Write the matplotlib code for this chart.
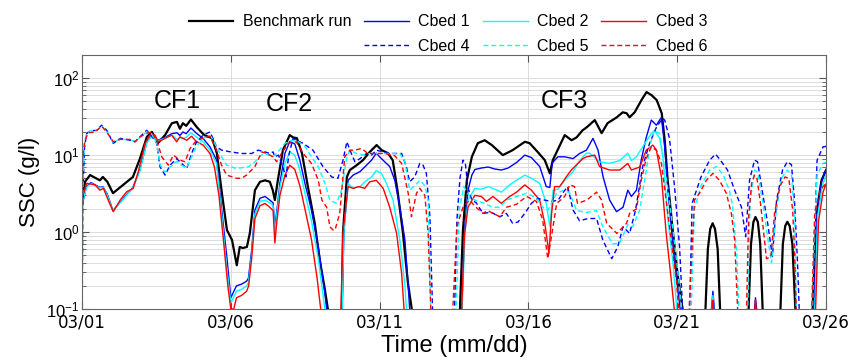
import numpy as np
import matplotlib
matplotlib.use("Agg")
import matplotlib.pyplot as plt
from matplotlib.lines import Line2D

plt.rcParams['font.family'] = ['Liberation Sans', 'DejaVu Sans']
plt.rcParams['mathtext.fontset'] = 'custom'
plt.rcParams['mathtext.rm'] = 'DejaVu Sans'

# ── Data: (days since 03/01, SSC g/l) ─────────────────────────────────────────
date_ticks = [0, 5, 10, 15, 20, 25]
date_labels = ["03/01", "03/06", "03/11", "03/16", "03/21", "03/26"]

bench = [(0.0, 2.5), (0.1, 4.5), (0.27, 5.5), (0.6, 4.7), (0.7, 5.2), (0.85, 4.5), (1.04, 3.2),
         (1.38, 4.1), (1.71, 5.2), (1.95, 9.1), (2.18, 17.3), (2.35, 20), (2.55, 14.3), (2.79, 18.2),
         (3.02, 26), (3.19, 27), (3.29, 22), (3.39, 26), (3.5, 24), (3.66, 29), (3.86, 23),
         (4.06, 19), (4.13, 18), (4.37, 16.6), (4.53, 10.6), (4.7, 3.2), (4.87, 1.06), (5.04, 0.79),
         (5.2, 0.37), (5.3, 0.64), (5.4, 0.62), (5.54, 0.64), (5.64, 0.97), (5.81, 3.5), (5.98, 4.5),
         (6.15, 4.7), (6.31, 4.5), (6.41, 3.5), (6.48, 2.6), (6.58, 4.7), (6.75, 11.6), (6.98, 18.2),
         (7.09, 17), (7.22, 16.6), (7.39, 10.6), (7.59, 3.9), (7.82, 1.3), (7.99, 0.43), (8.16, 0.18),
         (8.26, 0.1), (8.35, 0.01), (8.65, 0.01), (8.73, 0.1), (8.77, 1.0), (8.9, 5.2), (9.0, 6.4),
         (9.23, 7.4), (9.44, 8.6), (9.67, 11), (9.9, 13.5), (10.07, 11.6), (10.28, 10.6), (10.44, 8.6),
         (10.6, 3.5), (10.78, 1.0), (10.95, 0.22), (11.08, 0.1), (11.2, 0.01), (12.6, 0.01), (12.7, 0.1),
         (12.8, 1.06), (12.93, 4.7), (13.1, 9.5), (13.3, 14.3), (13.53, 15.6), (13.77, 13.5),
         (14.14, 10), (14.47, 11.6), (14.88, 14.9), (15.04, 14.3), (15.31, 11), (15.55, 8.6),
         (15.72, 5.8), (15.82, 8.6), (15.98, 11.6), (16.22, 18.2), (16.45, 15.6), (16.62, 17),
         (16.82, 21), (16.96, 23), (17.23, 28.5), (17.46, 19.3), (17.66, 26), (17.97, 31), (18.17, 36),
         (18.3, 35), (18.4, 31), (18.57, 36), (18.8, 52), (18.97, 66), (19.14, 60), (19.31, 52),
         (19.48, 35), (19.58, 15.6), (19.68, 4.7), (19.85, 1.06), (20.01, 0.29), (20.18, 0.1),
         (20.3, 0.01), (20.9, 0.01), (20.95, 0.1), (21.03, 0.6), (21.11, 1.1), (21.19, 1.3),
         (21.27, 1.1), (21.36, 0.6), (21.44, 0.1), (21.5, 0.01), (22.35, 0.01), (22.4, 0.1),
         (22.48, 0.7), (22.56, 1.35), (22.63, 1.57), (22.71, 1.35), (22.79, 0.7), (22.87, 0.1),
         (22.95, 0.01), (23.4, 0.01), (23.47, 0.1), (23.55, 0.7), (23.63, 1.2), (23.7, 1.36),
         (23.78, 1.2), (23.87, 0.7), (23.97, 0.1), (24.05, 0.01), (24.5, 0.01), (24.55, 0.1),
         (24.68, 1.76), (24.85, 4.7), (25.0, 6.4)]

cbed1 = [(0.0, 2.2), (0.15, 3.9), (0.3, 4.4), (0.6, 3.8), (0.7, 3.9), (0.85, 3.1), (1.04, 1.9),
         (1.38, 2.7), (1.71, 3.8), (1.95, 6.5), (2.18, 15), (2.35, 18), (2.55, 15.6), (2.79, 17),
         (3.02, 19), (3.19, 19.5), (3.29, 18), (3.39, 20), (3.5, 19), (3.66, 22.5), (3.86, 19),
         (4.06, 16.6), (4.3, 12.8), (4.52, 8.6), (4.69, 2.0), (4.86, 0.5), (5.0, 0.14), (5.19, 0.2),
         (5.36, 0.21), (5.53, 0.23), (5.59, 0.25), (5.7, 0.58), (5.81, 1.93), (5.98, 2.75),
         (6.15, 2.9), (6.31, 2.6), (6.42, 2.4), (6.48, 1.17), (6.54, 1.8), (6.65, 4.3), (6.82, 10.6),
         (6.98, 15), (7.15, 14), (7.32, 8.6), (7.49, 4.3), (7.71, 1.93), (7.94, 0.64), (8.16, 0.16),
         (8.22, 0.1), (8.3, 0.01), (8.68, 0.01), (8.74, 0.1), (8.8, 1.0), (8.94, 4.7), (9.11, 5.5),
         (9.34, 6.1), (9.56, 7.4), (9.73, 8.6), (9.89, 10.6), (10.0, 9.5), (10.17, 8.2), (10.34, 7.1),
         (10.51, 4.7), (10.68, 2.1), (10.85, 0.79), (10.96, 0.2), (11.01, 0.1), (11.1, 0.01),
         (12.7, 0.01), (12.76, 0.1), (12.85, 1.0), (12.97, 3.5), (13.1, 5.5), (13.2, 6.5),
         (13.42, 6.8), (13.65, 7.0), (13.87, 6.6), (14.09, 6.4), (14.32, 6.8), (14.6, 8.0),
         (14.88, 10), (15.1, 9.3), (15.38, 7.1), (15.6, 3.9), (15.72, 3.8), (15.8, 7.9), (15.99, 9.5),
         (16.22, 9.5), (16.5, 9.0), (16.72, 10.5), (16.95, 11.6), (17.17, 16.5), (17.34, 11.6),
         (17.51, 5.2), (17.73, 2.6), (17.96, 1.84), (18.18, 2.1), (18.34, 3.5), (18.46, 2.9),
         (18.63, 3.5), (18.79, 8.6), (18.96, 17), (19.13, 28.5), (19.3, 24.5), (19.47, 31),
         (19.58, 12.8), (19.69, 3.5), (19.86, 0.64), (20.02, 0.18), (20.1, 0.1), (20.2, 0.01),
         (21.1, 0.01), (21.15, 0.1), (21.2, 0.17), (21.25, 0.1), (21.3, 0.01), (22.55, 0.01),
         (22.6, 0.1), (22.63, 0.14), (22.67, 0.1), (22.72, 0.01), (24.55, 0.01), (24.6, 0.1),
         (24.7, 1.8), (24.85, 4.5), (25.0, 6.5)]

cbed2 = [(0.0, 2.3), (0.15, 3.8), (0.3, 4.3), (0.6, 3.75), (0.7, 3.85), (0.85, 3.0), (1.04, 1.87),
         (1.38, 2.65), (1.71, 3.75), (1.95, 6.3), (2.18, 14.7), (2.35, 17.7), (2.55, 15.3),
         (2.79, 16.6), (3.02, 18.2), (3.19, 16), (3.29, 16.8), (3.39, 16.5), (3.5, 17), (3.66, 19.5),
         (3.86, 17), (4.06, 15), (4.3, 11.6), (4.52, 7.8), (4.69, 1.7), (4.86, 0.35), (5.0, 0.12),
         (5.19, 0.17), (5.36, 0.18), (5.53, 0.2), (5.59, 0.22), (5.7, 0.5), (5.81, 1.7), (5.98, 2.5),
         (6.15, 2.6), (6.31, 2.4), (6.42, 2.2), (6.48, 1.0), (6.54, 1.6), (6.65, 3.8), (6.82, 7.8),
         (6.98, 11), (7.15, 10), (7.32, 6.4), (7.49, 3.2), (7.71, 1.4), (7.94, 0.45), (8.1, 0.15),
         (8.16, 0.1), (8.25, 0.01), (8.68, 0.01), (8.74, 0.1), (8.8, 1.0), (8.94, 4.3), (9.11, 3.7),
         (9.34, 3.9), (9.56, 4.7), (9.73, 5.2), (9.89, 6.3), (10.06, 5.8), (10.23, 4.3), (10.45, 2.6),
         (10.68, 0.79), (10.85, 0.2), (10.9, 0.1), (11.0, 0.01), (12.72, 0.01), (12.77, 0.1),
         (12.87, 1.0), (12.97, 2.6), (13.2, 3.7), (13.42, 3.6), (13.65, 3.9), (13.87, 3.6),
         (14.09, 3.3), (14.37, 4.1), (14.6, 4.7), (14.88, 5.5), (15.1, 5.0), (15.38, 4.3),
         (15.6, 2.36), (15.72, 1.17), (15.83, 3.5), (15.99, 3.6), (16.22, 4.7), (16.5, 6.1),
         (16.72, 8.5), (16.95, 10.6), (17.06, 10.6), (17.39, 8.2), (17.73, 7.8), (18.07, 8.5),
         (18.34, 10.6), (18.46, 8.5), (18.63, 9.5), (18.91, 14.2), (19.13, 19), (19.24, 21),
         (19.41, 16.5), (19.52, 9.5), (19.69, 1.43), (19.86, 0.39), (19.97, 0.12), (20.05, 0.01),
         (21.12, 0.01), (21.17, 0.1), (21.2, 0.15), (21.23, 0.1), (21.28, 0.01), (24.55, 0.01),
         (24.62, 0.1), (24.72, 1.6), (24.88, 4.0), (25.0, 5.5)]

cbed3 = [(0.0, 2.0), (0.05, 3.2), (0.16, 4.3), (0.44, 4.1), (0.6, 3.5), (0.72, 3.7), (0.88, 2.6),
         (1.05, 1.84), (1.28, 2.6), (1.5, 3.33), (1.72, 3.7), (1.89, 6.1), (2.12, 14.2), (2.28, 18.2),
         (2.45, 18.2), (2.56, 14.9), (2.79, 16.5), (3.01, 18.2), (3.18, 14.9), (3.29, 17.3),
         (3.52, 15.6), (3.68, 17.6), (3.85, 14.9), (4.07, 13.5), (4.3, 10.5), (4.45, 7.0), (4.6, 3.0),
         (4.75, 0.8), (4.9, 0.2), (5.0, 0.1), (5.1, 0.1), (5.19, 0.14), (5.36, 0.15), (5.53, 0.17),
         (5.6, 0.2), (5.7, 0.45), (5.81, 1.5), (5.98, 2.2), (6.15, 2.35), (6.31, 2.1), (6.42, 1.9),
         (6.48, 0.72), (6.54, 1.3), (6.65, 3.0), (6.82, 5.5), (6.98, 7.4), (7.15, 6.5), (7.32, 4.0),
         (7.49, 2.0), (7.71, 0.8), (7.9, 0.25), (8.02, 0.1), (8.1, 0.01), (8.62, 0.01), (8.7, 0.1),
         (8.77, 1.0), (8.94, 3.9), (9.11, 3.7), (9.3, 3.9), (9.5, 3.7), (9.67, 4.5), (9.89, 4.7),
         (10.12, 3.7), (10.34, 2.1), (10.57, 0.97), (10.74, 0.29), (10.82, 0.1), (10.9, 0.01),
         (12.7, 0.01), (12.76, 0.1), (12.85, 0.9), (12.97, 2.1), (13.2, 3.0), (13.42, 2.9),
         (13.59, 2.5), (13.81, 2.9), (14.09, 2.36), (14.37, 2.9), (14.6, 3.3), (14.88, 4.1),
         (15.1, 3.5), (15.38, 2.6), (15.55, 1.3), (15.69, 0.53), (15.78, 1.75), (15.88, 3.9),
         (16.05, 3.9), (16.27, 5.2), (16.44, 6.4), (16.83, 9.0), (16.95, 9.5), (17.23, 10),
         (17.39, 7.1), (17.73, 6.4), (18.07, 6.4), (18.34, 7.8), (18.46, 6.4), (18.74, 7.0),
         (18.96, 11.6), (19.18, 13.5), (19.3, 11.6), (19.47, 5.2), (19.63, 0.96), (19.8, 0.24),
         (19.9, 0.1), (20.0, 0.01), (21.14, 0.01), (21.18, 0.1), (21.2, 0.13), (21.22, 0.1),
         (21.26, 0.01), (22.57, 0.01), (22.61, 0.1), (22.63, 0.13), (22.65, 0.1), (22.69, 0.01),
         (24.6, 0.01), (24.65, 0.1), (24.75, 1.4), (24.9, 3.3), (25.0, 4.2)]

cbed4 = [(0.0, 0.05), (0.03, 3), (0.08, 12), (0.15, 19), (0.27, 20.6), (0.49, 21), (0.66, 24.5),
         (0.83, 21), (1.05, 14.2), (1.28, 16.5), (1.61, 15.6), (1.78, 14.9), (1.95, 17.3),
         (2.17, 21), (2.28, 19), (2.51, 14.2), (2.62, 7.05), (2.79, 5.5), (2.96, 7.4), (3.18, 9.0),
         (3.29, 8.2), (3.52, 6.7), (3.68, 10.5), (3.85, 14.9), (4.07, 18.2), (4.3, 20), (4.35, 18.2),
         (4.52, 12.8), (4.69, 11.6), (5.0, 11), (5.36, 10.5), (5.7, 10.5), (5.92, 11.6), (6.15, 11),
         (6.31, 10.5), (6.42, 11), (6.48, 9.5), (6.6, 10), (6.75, 7), (6.85, 5.2), (6.95, 10),
         (7.09, 16.5), (7.2, 15.6), (7.43, 14.2), (7.76, 11.6), (8.1, 7.05), (8.39, 5.2), (8.6, 5.0),
         (8.77, 8.6), (8.9, 14.9), (9.05, 10.5), (9.17, 8.2), (9.34, 9.0), (9.56, 10.5), (9.73, 10),
         (9.89, 11.6), (10.12, 11), (10.29, 10.5), (10.51, 10.5), (10.74, 10.5), (10.9, 7.05),
         (11.01, 4.5), (11.18, 5.2), (11.35, 7.8), (11.46, 7.4), (11.57, 5.8), (11.69, 1.58),
         (11.78, 0.1), (11.85, 0.01), (12.45, 0.01), (12.52, 0.1), (12.6, 1.5), (12.7, 5),
         (12.8, 8.6), (12.88, 8.0), (12.96, 3.9), (13.1, 2.6), (13.25, 2.4), (13.47, 1.75),
         (13.75, 1.8), (14.04, 1.58), (14.26, 1.75), (14.47, 1.3), (14.65, 1.35), (14.88, 1.75),
         (15.1, 2.36), (15.31, 2.74), (15.55, 2.6), (15.78, 2.5), (16.0, 2.6), (16.15, 3.2),
         (16.32, 3.9), (16.5, 1.93), (16.72, 1.4), (17.0, 1.5), (17.29, 1.5), (17.5, 0.79),
         (17.8, 0.45), (18.0, 0.64), (18.18, 1.17), (18.4, 0.96), (18.6, 1.93), (18.84, 7.1),
         (19.07, 14.2), (19.31, 23.4), (19.51, 30), (19.58, 28.5), (19.74, 16.5), (19.91, 3.9),
         (20.08, 0.64), (20.18, 0.1), (20.25, 0.01), (20.35, 0.01), (20.42, 0.1), (20.5, 2.36),
         (20.8, 5.2), (21.09, 8.6), (21.29, 10.3), (21.49, 8.2), (21.69, 6.4), (21.93, 3.5),
         (22.16, 2.1), (22.3, 0.87), (22.43, 4.7), (22.6, 8.6), (22.7, 8.2), (22.87, 3.2),
         (23.04, 1.3), (23.2, 0.48), (23.34, 2.6), (23.54, 6.4), (23.7, 8.2), (23.84, 7.5),
         (23.94, 2.6), (24.04, 0.43), (24.1, 0.1), (24.15, 0.01), (24.55, 0.01), (24.6, 0.5),
         (24.7, 8.6), (24.9, 12.8), (25.0, 13)]

cbed5 = [(0.0, 0.01), (0.02, 3), (0.08, 14), (0.15, 19), (0.27, 20.6), (0.49, 21), (0.66, 24),
         (0.83, 20.5), (1.05, 14.5), (1.28, 16.2), (1.61, 15.8), (1.78, 15), (1.95, 17), (2.17, 20),
         (2.34, 19), (2.51, 14), (2.62, 7.5), (2.79, 6.0), (2.96, 7.0), (3.18, 8.3), (3.29, 7.5),
         (3.52, 6.9), (3.68, 9.5), (3.85, 13), (4.07, 16.5), (4.3, 18), (4.35, 17), (4.52, 12.8),
         (4.69, 9.5), (4.86, 7.4), (5.19, 6.7), (5.59, 7.05), (5.81, 8.2), (6.09, 10.5), (6.31, 10),
         (6.42, 9.5), (6.54, 10.5), (6.82, 14.2), (7.04, 15.6), (7.26, 15), (7.49, 13), (7.71, 9.5),
         (7.94, 7.05), (8.16, 4.3), (8.33, 2.6), (8.55, 2.36), (8.72, 3.5), (8.89, 9), (9.0, 11.6),
         (9.22, 10.5), (9.45, 10), (9.67, 10.5), (10.0, 10.5), (10.34, 10.5), (10.68, 10.5),
         (10.85, 8.2), (11.01, 3.5), (11.18, 4.0), (11.35, 4.7), (11.52, 4.0), (11.63, 2.6),
         (11.72, 0.1), (11.8, 0.01), (12.5, 0.01), (12.57, 0.1), (12.68, 2.0), (12.83, 3.9),
         (13.0, 3.0), (13.2, 2.6), (13.47, 2.4), (13.8, 2.1), (14.04, 2.1), (14.26, 2.6),
         (14.6, 2.9), (14.94, 3.2), (15.25, 2.8), (15.48, 2.1), (15.65, 1.9), (15.95, 3.2),
         (16.2, 3.5), (16.39, 3.2), (16.62, 1.9), (16.96, 1.8), (17.29, 1.9), (17.5, 1.17),
         (17.83, 0.7), (18.07, 0.72), (18.34, 1.25), (18.5, 1.17), (18.74, 1.93), (18.96, 6.4),
         (19.13, 15.6), (19.24, 21), (19.41, 19), (19.52, 9.5), (19.69, 3.5), (19.86, 1.06),
         (20.05, 0.24), (20.15, 0.1), (20.22, 0.01), (20.4, 0.01), (20.47, 0.1), (20.58, 2.0),
         (20.8, 4.0), (21.09, 6.4), (21.32, 7.1), (21.55, 5.5), (21.75, 3.5), (21.85, 2.36),
         (22.0, 0.53), (22.07, 0.1), (22.12, 0.01), (22.3, 0.01), (22.37, 0.1), (22.45, 2.5),
         (22.6, 6.4), (22.7, 6.0), (22.87, 2.5), (23.05, 0.8), (23.17, 0.4), (23.3, 1.5),
         (23.5, 5.0), (23.7, 6.4), (23.84, 5.5), (23.95, 1.5), (24.0, 0.1), (24.05, 0.01),
         (24.5, 0.01), (24.57, 0.3), (24.7, 5.5), (24.9, 7.8), (25.0, 8)]

cbed6 = [(0.0, 0.01), (0.005, 0.1), (0.02, 9.5), (0.1, 15.6), (0.21, 19.5), (0.44, 20),
         (0.66, 23.7), (0.83, 20), (1.05, 14.9), (1.28, 16), (1.61, 16), (1.78, 14.9), (1.95, 17.3),
         (2.17, 19.1), (2.34, 20), (2.51, 15.6), (2.68, 9.5), (2.9, 7.4), (3.07, 10), (3.29, 8.6),
         (3.46, 8.2), (3.63, 12.2), (3.85, 15.6), (4.07, 16.5), (4.3, 17.6), (4.35, 16),
         (4.52, 11.6), (4.69, 7.4), (4.86, 5.5), (5.19, 5.0), (5.36, 5.0), (5.53, 5.5), (5.81, 7.1),
         (6.04, 11), (6.2, 10.5), (6.42, 9.5), (6.54, 8.2), (6.7, 10.5), (6.93, 14.2), (7.2, 14.9),
         (7.43, 10.5), (7.71, 7.8), (7.94, 4.7), (8.06, 2.6), (8.22, 2.1), (8.33, 1.17),
         (8.44, 1.06), (8.5, 1.06), (8.66, 1.75), (8.83, 9.5), (9.0, 11.6), (9.17, 11.6),
         (9.39, 12.2), (9.61, 10.5), (9.89, 10.5), (10.17, 10.5), (10.51, 9.8), (10.74, 7.8),
         (10.96, 3.2), (11.07, 1.58), (11.24, 3.2), (11.35, 3.7), (11.52, 3.0), (11.63, 0.96),
         (11.72, 0.1), (11.8, 0.01), (12.38, 0.01), (12.46, 0.1), (12.6, 1.2), (12.8, 2.1),
         (13.02, 2.6), (13.24, 2.1), (13.47, 1.75), (13.63, 1.9), (13.81, 1.75), (14.04, 1.58),
         (14.26, 2.1), (14.6, 2.3), (14.94, 2.9), (15.27, 2.5), (15.48, 1.43), (15.65, 0.45),
         (15.78, 0.9), (15.95, 2.36), (16.22, 2.9), (16.39, 4.1), (16.55, 3.9), (16.65, 2.36),
         (16.96, 2.6), (17.29, 3.3), (17.46, 2.6), (17.63, 1.3), (17.97, 0.96), (18.3, 1.3),
         (18.4, 1.75), (18.63, 2.0), (18.79, 4.7), (18.96, 9.0), (19.13, 12.8), (19.3, 11.6),
         (19.47, 7.8), (19.63, 2.6), (19.8, 0.79), (19.97, 0.24), (20.05, 0.1), (20.12, 0.01),
         (20.35, 0.01), (20.4, 0.1), (20.58, 2.6), (20.75, 3.2), (20.98, 4.7), (21.2, 5.8),
         (21.42, 4.7), (21.65, 3.2), (21.82, 1.75), (21.93, 0.79), (22.03, 0.1), (22.08, 0.01),
         (22.28, 0.01), (22.33, 0.1), (22.4, 1.58), (22.5, 4.3), (22.6, 5.5), (22.68, 5.0),
         (22.8, 2.36), (22.93, 0.79), (23.0, 0.45), (23.15, 0.48), (23.27, 1.75), (23.45, 3.9),
         (23.62, 5.2), (23.75, 5.0), (23.88, 1.93), (23.95, 0.48), (24.0, 0.1), (24.05, 0.01),
         (24.45, 0.01), (24.52, 0.1), (24.62, 1.76), (24.8, 3.5), (25.0, 4.3)]

events = ["CF1", "CF2", "CF3"]
event_x = [3.2, 6.95, 16.2]
event_y = [50, 46, 50]

# ── Plot ──────────────────────────────────────────────────────────────────────
series = [
    ("Benchmark run", bench, "k", "-", 1.6),
    ("Cbed 1", cbed1, "#0000ff", "-", 1.0),
    ("Cbed 2", cbed2, "#00ffff", "-", 1.0),
    ("Cbed 3", cbed3, "#ff0000", "-", 1.0),
    ("Cbed 4", cbed4, "#0000ff", (0, (3.5, 2.2)), 1.0),
    ("Cbed 5", cbed5, "#00ffff", (0, (3.5, 2.2)), 1.0),
    ("Cbed 6", cbed6, "#ff0000", (0, (3.5, 2.2)), 1.0),
]

fig = plt.figure(figsize=(8.58, 3.6), dpi=100)
ax = fig.add_axes([0.0956, 0.1417, 0.8671, 0.7055])

handles = {}
for name, data, col, ls, lw in series:
    t, v = np.array(data).T
    ln, = ax.plot(t, v, color=col, linestyle=ls, linewidth=lw, label=name)
    handles[name] = ln

ax.set_yscale("log")
ax.set_xlim(0, 25)
ax.set_ylim(0.1, 200)
ax.set_xticks(date_ticks)
ax.set_xticklabels(date_labels, family="DejaVu Sans", fontsize=12)
ax.tick_params(axis="y", labelsize=12, pad=2)

ax.grid(True, which="major", axis="x", color="#dcdcdc", linewidth=0.7)
ax.grid(True, which="both", axis="y", color="#dcdcdc", linewidth=0.7)
ax.set_axisbelow(True)
ax.tick_params(which="both", direction="in", top=True, right=True, colors="#555555",
               labelcolor="black")
ax.tick_params(which="major", length=5)
ax.tick_params(which="minor", length=3)
for sp in ax.spines.values():
    sp.set_color("#666666")

ax.set_xlabel("Time (mm/dd)", fontsize=17, labelpad=2)
ax.set_ylabel("SSC (g/l)", fontsize=16, labelpad=4)

for lab, x, y in zip(events, event_x, event_y):
    ax.text(x, y, lab, fontsize=18, ha="center", va="center")

# legend: 4 columns, empty slot under "Benchmark run"
blank = Line2D([], [], linestyle="none")
order = ["Benchmark run", None, "Cbed 1", "Cbed 4", "Cbed 2", "Cbed 5", "Cbed 3", "Cbed 6"]
leg_h = [handles[n] if n else blank for n in order]
leg_l = [n if n else "" for n in order]
fig.legend(leg_h, leg_l, ncol=4, loc="upper center", bbox_to_anchor=(0.522, 1.0),
           frameon=False, fontsize=11.5, handlelength=2.8, handletextpad=0.6,
           columnspacing=0.8, labelspacing=0.6)

fig.savefig("out.png", dpi=100)
